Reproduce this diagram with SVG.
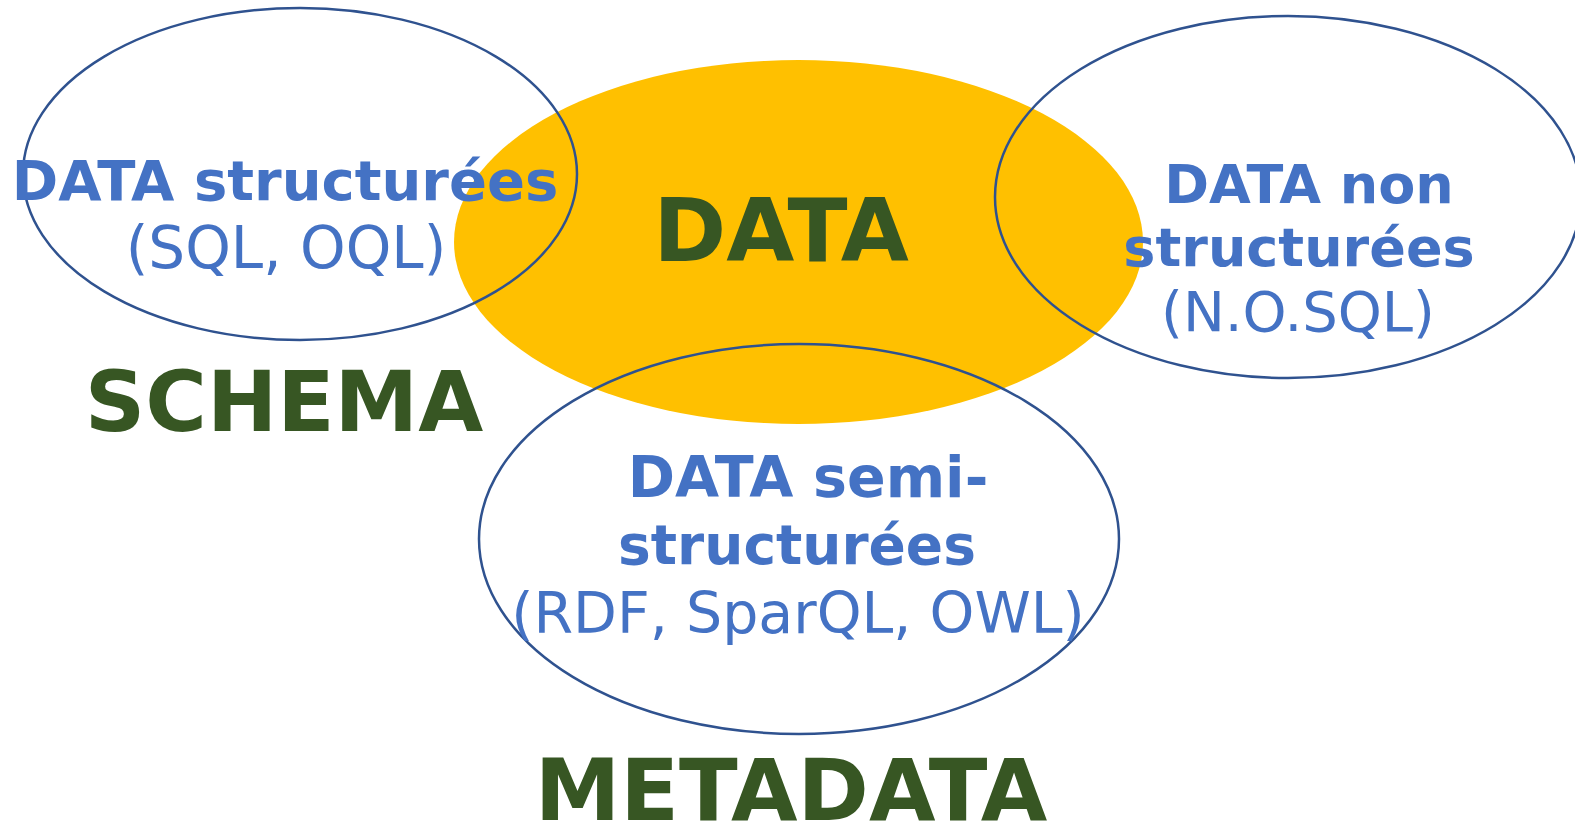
<svg xmlns="http://www.w3.org/2000/svg" width="1575" height="826" viewBox="0 0 1575 826">
<style>
.ring{fill:none;stroke:#2F528F;stroke-width:2.5}
.b{font-family:"DejaVu Sans",Verdana,sans-serif;font-weight:bold;fill:#4472C4;text-anchor:middle}
.r{font-family:"DejaVu Sans",Verdana,sans-serif;fill:#4472C4;text-anchor:middle}
.g{font-family:"DejaVu Sans",Verdana,sans-serif;font-weight:bold;fill:#375623;text-anchor:middle}
</style>
<rect width="1575" height="826" fill="#fff"/>
<g id="data">
<ellipse cx="798.5" cy="242" rx="344.5" ry="182" fill="#FFC000"/>
<text class="g" x="781" y="261" font-size="88">DATA</text>
</g>
<g id="structured">
<ellipse class="ring" cx="300" cy="174" rx="277" ry="166"/>
<text class="b" x="285" y="200" font-size="56">DATA structurées</text>
<text class="r" x="286" y="268" font-size="58">(SQL, OQL)</text>
</g>
<g id="unstructured">
<ellipse class="ring" cx="1288" cy="197" rx="293" ry="181"/>
<text class="b" x="1309" y="203" font-size="54">DATA non</text>
<text class="b" x="1299" y="266" font-size="54">structurées</text>
<text class="r" x="1298" y="331" font-size="56">(N.O.SQL)</text>
</g>
<g id="semistructured">
<ellipse class="ring" cx="799" cy="539" rx="320" ry="195"/>
<text class="b" x="808" y="497" font-size="57">DATA semi-</text>
<text class="b" x="797" y="564" font-size="55">structurées</text>
<text class="r" x="798" y="633" font-size="57">(RDF, SparQL, OWL)</text>
</g>
<g id="schema">
<text class="g" x="284" y="431" font-size="84">SCHEMA</text>
</g>
<g id="metadata">
<text class="g" x="791" y="820" font-size="86">METADATA</text>
</g>
<g id="connectors"></g>
</svg>
